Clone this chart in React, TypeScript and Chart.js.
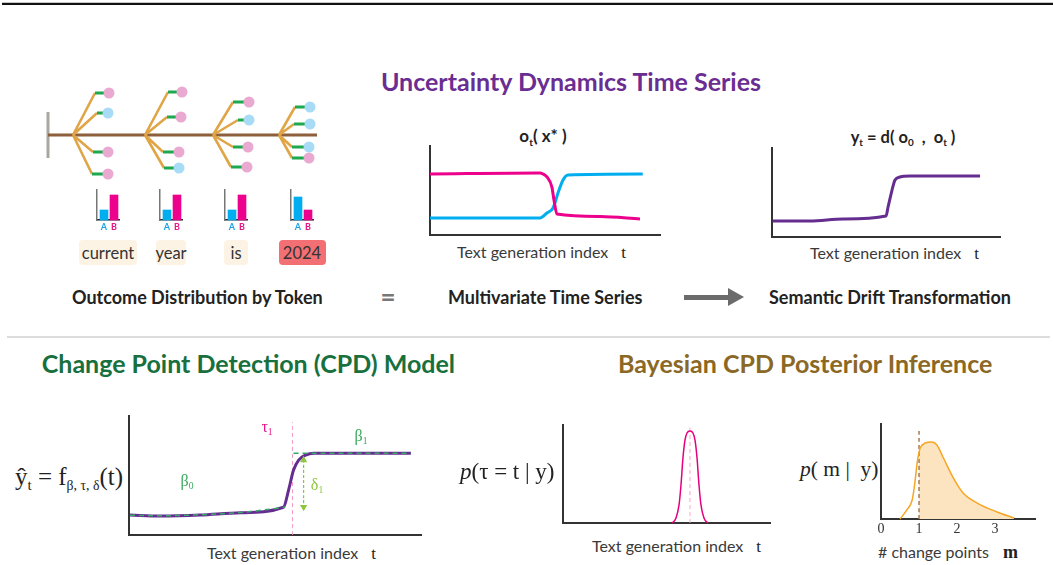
import React, { useEffect, useRef } from "react";
import { Chart, registerables } from "chart.js";
Chart.register(...registerables);

const SANS = "Lato, 'Open Sans', sans-serif";
const SERIF = "'Liberation Serif', 'DejaVu Serif', serif";

// ---------------- data ----------------
const TOKENS = ["current", "year", "is", "2024"];
const PROB_A = [10, 10, 10, 23];
const PROB_B = [25, 25, 25, 10];

// token tree (diagram units: along trunk / above-below trunk)
const TREE_NODE_X = [25, 97, 165, 231];
const TREE_TRUNK_END = 269;
const TREE_STEM = 23;
const TREE_BRANCH_Y = [
  [42, 22, -17, -39],
  [43, 18, -17, -33],
  [33, 15, -12, -32],
  [28, 11, -12, -23],
];
const TREE_ELBOW_DX = [
  [22, 24, 20, 19],
  [23, 22, 18, 19],
  [20, 25, 20, 18],
  [16, 15, 13, 13],
];
const TREE_LEAF_DX = [
  [36, 35, 35, 35],
  [37, 36, 34, 34],
  [36, 36, 35, 34],
  [31, 31, 30, 30],
];
const TREE_LEAF_OUTCOME = [
  ["B", "A", "B", "B"],
  ["B", "B", "B", "A"],
  ["B", "A", "B", "B"],
  ["A", "A", "A", "B"],
];

// o_t(x*) multivariate series
const OT_PINK_T = [0, 9.57, 9.83, 10.17, 10.6, 10.78, 11.04, 14.8, 18.26];
const OT_PINK_V = [68.5, 69.7, 68.5, 65.2, 53.9, 39.3, 23.6, 20.8, 18];
const OT_BLUE_T = [0, 9.57, 10.17, 10.7, 11.13, 11.57, 12, 18.5];
const OT_BLUE_V = [19.1, 19.1, 24.7, 30.3, 47.2, 61.8, 67.4, 68.5];

// y_t semantic drift
const YT_T = [0.06, 3.33, 6.23, 10.0, 10.18, 10.53, 10.79, 11.23, 12.1, 18.25];
const YT_V = [18, 18, 20.2, 23.6, 33.7, 52.8, 64, 67.4, 68.5, 68.5];

// CPD model fit
const CPD_T = [0.07, 2.13, 4.88, 7.63, 10.58, 10.93, 11.27, 11.62, 12.1, 12.65, 19.31];
const CPD_V = [16.8, 16, 16.8, 18.7, 23.3, 37.8, 54.6, 63, 67.2, 68.7, 68.7];
const CPD_FIT_T = [0.07, 2.13, 4.88, 7.63, 10.7, null, 11.27, 19.31];
const CPD_FIT_V = [16.6, 16.2, 17.0, 18.9, 23.3, null, 68.7, 68.7];
const CPD_TAU = 11.2;
const CPD_DELTA = [23.5, 63];
const CPD_DELTA_T = 11.96;

// posterior of change location
const TAU_T = [10.53, 10.92, 11.21, 11.4, 11.59, 11.79, 11.98, 12.27, 12.56, 12.75, 12.95, 13.14, 13.33, 13.62, 14.01];
const TAU_P = [0, 5.1, 18.4, 38.8, 66.3, 84.7, 91.8, 93.9, 91.8, 84.7, 66.3, 38.8, 18.4, 5.1, 0];
const TAU_MODE = 12.27;

// posterior of number of change points
const M_X = [0.5, 0.68, 0.82, 0.89, 0.95, 1.0, 1.03, 1.16, 1.34, 1.47, 1.63, 1.89, 2.16, 2.53, 3.05, 3.5];
const M_P = [0, 9.5, 20, 37.9, 58.9, 70, 74.7, 80, 81, 77.9, 65.3, 44.2, 27.4, 16.8, 7.4, 1.05];
const M_TICKS = [0, 1, 2, 3];
const M_MARK = 1;

// ---------------- colours ----------------
const PINK = "#ec008c";
const BLUE = "#00aeef";
const PURPLE = "#662d91";
const AXIS = "#333333";

// ---------------- helpers ----------------
type Box = { x: number; y: number; w: number; h: number };
type Pad = { l: number; t: number; r: number; b: number };

function ChartBox({ box, pad, build }: { box: Box; pad: Pad; build: (p: Pad) => any }) {
  const ref = useRef<HTMLCanvasElement | null>(null);
  useEffect(() => {
    if (!ref.current) return;
    const chart = new Chart(ref.current, build(pad));
    return () => chart.destroy();
  }, []);
  return (
    <div
      style={{
        position: "absolute",
        left: box.x - pad.l,
        top: box.y - pad.t,
        width: box.w + pad.l + pad.r,
        height: box.h + pad.t + pad.b,
      }}
    >
      <canvas ref={ref} />
    </div>
  );
}

// axisH: height reserved (inside pad.b) for x tick labels
function opts(pad: Pad, x: any, y: any, axisH = 0) {
  return {
    responsive: true,
    maintainAspectRatio: false,
    animation: false,
    events: [],
    layout: { autoPadding: false, padding: { left: pad.l, top: pad.t, right: pad.r, bottom: pad.b - axisH } },
    plugins: { legend: { display: false }, tooltip: { enabled: false }, title: { display: false } },
    scales: { x, y },
  };
}

function xAxis(min: number, max: number, extra: any = {}, h = 0) {
  return {
    type: "linear",
    min,
    max,
    grid: { display: false, drawTicks: false },
    border: { display: true, color: AXIS, width: 2 },
    ticks: { display: false },
    afterFit: (s: any) => {
      s.height = h;
    },
    ...extra,
  };
}
function yAxis(min: number, max: number, extra: any = {}) {
  return {
    type: "linear",
    min,
    max,
    grid: { display: false, drawTicks: false },
    border: { display: true, color: AXIS, width: 2 },
    ticks: { display: false },
    afterFit: (s: any) => {
      s.width = 0;
    },
    ...extra,
  };
}

function series(xs: (number | null)[], ys: (number | null)[], color: string, width: number, extra: any = {}) {
  return {
    data: xs.map((x, i) => ({ x: x === null ? null : x, y: ys[i] })),
    borderColor: color,
    backgroundColor: color,
    borderWidth: width,
    pointRadius: 0,
    fill: false,
    clip: false,
    tension: 0.4,
    cubicInterpolationMode: "monotone",
    ...extra,
  };
}

// ---------------- chart builders ----------------
function buildTree(pad: Pad) {
  const orange: any[] = [];
  const green: any[] = [];
  const leafA: any[] = [];
  const leafB: any[] = [];
  TREE_NODE_X.forEach((nx, i) => {
    TREE_BRANCH_Y[i].forEach((by, j) => {
      const ex = nx + TREE_ELBOW_DX[i][j];
      const lx = nx + TREE_LEAF_DX[i][j];
      orange.push({ x: nx, y: 0 }, { x: ex, y: by }, { x: ex, y: null });
      green.push({ x: ex, y: by }, { x: lx, y: by }, { x: lx, y: null });
      (TREE_LEAF_OUTCOME[i][j] === "A" ? leafA : leafB).push({ x: lx, y: by });
    });
  });
  const seg = (data: any[], color: string, w: number, order: number) => ({
    data,
    showLine: true,
    borderColor: color,
    borderWidth: w,
    pointRadius: 0,
    spanGaps: false,
    clip: false,
    order,
  });
  return {
    type: "scatter",
    data: {
      datasets: [
        { data: leafA, pointRadius: 5.5, pointBackgroundColor: "#a8dcf6", pointBorderWidth: 0, clip: false, order: 0 },
        { data: leafB, pointRadius: 5.5, pointBackgroundColor: "#e9a9d1", pointBorderWidth: 0, clip: false, order: 0 },
        seg(green, "#1ea84f", 2.8, 1),
        seg(orange, "#dfa546", 2.6, 2),
        seg([{ x: 0, y: 0 }, { x: TREE_TRUNK_END, y: 0 }], "#8d5f3c", 3.2, 3),
        seg([{ x: 0, y: -TREE_STEM }, { x: 0, y: TREE_STEM }], "#aaa6a0", 3, 4),
      ],
    },
    options: opts(pad, { type: "linear", display: false, min: -8, max: 282 }, { type: "linear", display: false, min: -50, max: 50 }),
  };
}

function buildMiniBar(i: number) {
  return (pad: Pad) => ({
    type: "bar",
    data: {
      datasets: [
        {
          data: [
            { x: 0, y: PROB_A[i] },
            { x: 1, y: PROB_B[i] },
          ],
          backgroundColor: [BLUE, PINK],
          barThickness: 8,
          clip: false,
        },
      ],
    },
    options: opts(
      pad,
      {
        type: "linear",
        min: -0.7,
        max: 1.5,
        offset: false,
        grid: { display: false, drawTicks: false },
        border: { display: true, color: "#222", width: 1.5 },
        ticks: {
          display: true,
          padding: 2,
          autoSkip: false,
          maxRotation: 0,
          font: { family: SANS, size: 9, weight: "bold" },
          color: (c: any) => (c.tick && c.tick.value === 0 ? "#1aa3e0" : "#e6168a"),
          callback: (v: any) => (v === 0 ? "A" : v === 1 ? "B" : ""),
        },
        afterBuildTicks: (s: any) => {
          s.ticks = [{ value: 0 }, { value: 1 }];
        },
        afterFit: (s: any) => {
          s.height = 12;
        },
      },
      {
        type: "linear",
        min: 0,
        max: 30,
        grid: { display: false, drawTicks: false },
        border: { display: true, color: "#777", width: 1.5 },
        ticks: { display: false },
        afterFit: (s: any) => {
          s.width = 0;
        },
      },
      12
    ),
  });
}

function buildOt(pad: Pad) {
  return {
    type: "line",
    data: {
      datasets: [series(OT_PINK_T, OT_PINK_V, PINK, 3), series(OT_BLUE_T, OT_BLUE_V, BLUE, 3)],
    },
    options: opts(pad, xAxis(0, 20), yAxis(0, 100)),
  };
}

function buildYt(pad: Pad) {
  return {
    type: "line",
    data: { datasets: [series(YT_T, YT_V, PURPLE, 3)] },
    options: opts(pad, xAxis(0, 20), yAxis(0, 100)),
  };
}

function buildCpd(pad: Pad) {
  return {
    type: "line",
    data: {
      datasets: [
        series(CPD_FIT_T, CPD_FIT_V, "#3aa86a", 1.5, { borderDash: [5, 4], order: 0, spanGaps: false }),
        series([CPD_DELTA_T, CPD_DELTA_T], [CPD_DELTA[1], CPD_DELTA[0]], "#8dc63f", 1.2, {
          tension: 0,
          borderDash: [3, 2],
          pointRadius: 3,
          pointStyle: "triangle",
          rotation: [0, 180],
          order: 0,
        }),
        series(CPD_T, CPD_V, PURPLE, 3, { order: 1 }),
        series([CPD_TAU, CPD_TAU], [0, 95], "#f49ac5", 1, { tension: 0, borderDash: [4, 3], order: 2 }),
      ],
    },
    options: opts(pad, xAxis(0, 20), yAxis(0, 100)),
  };
}

function buildTau(pad: Pad) {
  return {
    type: "line",
    data: {
      datasets: [
        series(TAU_T, TAU_P, "#e6007e", 1.5, { order: 0 }),
        series([TAU_MODE, TAU_MODE], [0, 100], "#f4a6c9", 1, { tension: 0, borderDash: [4, 3], order: 1 }),
      ],
    },
    options: opts(pad, xAxis(0, 20), yAxis(0, 100)),
  };
}

function buildM(pad: Pad) {
  const fx: number[] = [];
  const fy: number[] = [];
  M_X.forEach((x, i) => {
    if (x >= M_MARK) {
      fx.push(x);
      fy.push(M_P[i]);
    }
  });
  return {
    type: "line",
    data: {
      datasets: [
        series(M_X, M_P, "#f6a623", 1.5, { order: 0 }),
        series([M_MARK, M_MARK], [0, 93.7], "#a77b4f", 1.5, { tension: 0, borderDash: [4, 3], order: 1 }),
        series(fx, fy, "rgba(0,0,0,0)", 0, { fill: "origin", backgroundColor: "#fde4c1", order: 2 }),
      ],
    },
    options: opts(
      pad,
      xAxis(
        0,
        4.05,
        {
          ticks: {
            display: true,
            padding: 2,
            autoSkip: false,
            maxRotation: 0,
            color: "#333",
            font: { family: SERIF, size: 14 },
            callback: (v: any) => String(v),
          },
          afterBuildTicks: (s: any) => {
            s.ticks = M_TICKS.map((v) => ({ value: v }));
          },
        },
        20
      ),
      yAxis(0, 100),
      20
    ),
  };
}

// ---------------- text helpers ----------------
function Txt({ x, y, a = "l", s = {}, children }: any) {
  const tx = a === "c" ? "-50%" : a === "r" ? "-100%" : "0";
  return (
    <div
      style={{
        position: "absolute",
        left: x,
        top: y,
        transform: `translate(${tx},-50%)`,
        whiteSpace: "nowrap",
        lineHeight: 1,
        ...s,
      }}
    >
      {children}
    </div>
  );
}
function Sub({ children, s = {} }: any) {
  return <span style={{ fontSize: "0.6em", position: "relative", top: "0.35em", ...s }}>{children}</span>;
}

const COL_X = [108, 171, 236, 302];
const TOKEN_W = [58, 30, 24, 47];

function AxisLabel({ x, y, text, v, gap = 13 }: any) {
  return (
    <Txt x={x} y={y} s={{ fontFamily: SANS, fontSize: 16, color: "#3a3a3a" }}>
      {text}
      <span style={{ fontFamily: SERIF, fontSize: 17, color: "#222", marginLeft: gap }}>{v}</span>
    </Txt>
  );
}

export default function App() {
  const bold = { fontFamily: SANS, fontWeight: 700, color: "#222" };
  return (
    <div style={{ position: "absolute", left: 0, top: 0, width: 1053, height: 565, background: "#fff", overflow: "hidden" }}>
      {/* top rule */}
      <div style={{ position: "absolute", left: 2, top: 2, width: 1051, height: 1, background: "#c8c8c8" }} />
      <div style={{ position: "absolute", left: 2, top: 3, width: 1051, height: 2, background: "#111" }} />

      {/* section title */}
      <Txt x={571} y={81} a="c" s={{ fontFamily: SANS, fontWeight: 700, fontSize: 25, color: "#6a2d92" }}>
        Uncertainty Dynamics Time Series
      </Txt>

      {/* tree */}
      <ChartBox box={{ x: 40, y: 85, w: 290, h: 100 }} pad={{ l: 0, t: 0, r: 0, b: 0 }} build={buildTree} />

      {/* mini distributions */}
      {COL_X.map((cx, i) => (
        <ChartBox key={"b" + i} box={{ x: cx - 11, y: 190, w: 22, h: 30 }} pad={{ l: 4, t: 2, r: 4, b: 13 }} build={buildMiniBar(i)} />
      ))}

      {/* tokens */}
      {TOKENS.map((tk, i) => (
        <div
          key={tk}
          style={{
            position: "absolute",
            left: COL_X[i] - TOKEN_W[i] / 2,
            top: 240,
            width: TOKEN_W[i],
            height: 25,
            borderRadius: 4,
            background: i === 3 ? "#f27073" : "#fdf3e5",
            display: "flex",
            alignItems: "center",
            justifyContent: "center",
            fontFamily: SANS,
            fontSize: 16.5,
            color: "#333",
          }}
        >
          {tk}
        </div>
      ))}

      {/* o_t chart */}
      <Txt x={543} y={135} a="c" s={{ ...bold, fontSize: 17 }}>
        o<Sub>t</Sub>( x* )
      </Txt>
      <ChartBox box={{ x: 430, y: 146, w: 230, h: 89 }} pad={{ l: 4, t: 4, r: 4, b: 4 }} build={buildOt} />
      <AxisLabel x={457} y={252} text="Text generation index" v="t" />

      {/* y_t chart */}
      <Txt x={903} y={137} a="c" s={{ ...bold, fontSize: 16.5 }}>
        y<Sub>t</Sub> = d( o<Sub>0</Sub> &nbsp;, &nbsp;o<Sub>t</Sub> )
      </Txt>
      <ChartBox box={{ x: 772, y: 148, w: 228, h: 89 }} pad={{ l: 4, t: 4, r: 4, b: 4 }} build={buildYt} />
      <AxisLabel x={810} y={253} text="Text generation index" v="t" />

      {/* row labels */}
      <Txt x={72} y={297} s={{ ...bold, fontSize: 18 }}>
        Outcome Distribution by Token
      </Txt>
      <Txt x={388} y={296} a="c" s={{ fontFamily: SANS, fontWeight: 700, fontSize: 26, color: "#777" }}>
        =
      </Txt>
      <Txt x={448} y={297} s={{ ...bold, fontSize: 18 }}>
        Multivariate Time Series
      </Txt>
      <div style={{ position: "absolute", left: 684, top: 294.5, width: 46, height: 5, background: "#6b6b6b" }} />
      <div
        style={{
          position: "absolute",
          left: 728,
          top: 288,
          width: 0,
          height: 0,
          borderTop: "9px solid transparent",
          borderBottom: "9px solid transparent",
          borderLeft: "16px solid #6b6b6b",
        }}
      />
      <Txt x={769} y={297} s={{ ...bold, fontSize: 18 }}>
        Semantic Drift Transformation
      </Txt>

      {/* separator */}
      <div style={{ position: "absolute", left: 7, top: 336, width: 1043, height: 2, background: "#dcdcdc" }} />

      {/* bottom titles */}
      <Txt x={455} y={363} a="r" s={{ fontFamily: SANS, fontWeight: 700, fontSize: 25, color: "#17703d" }}>
        Change Point Detection (CPD) Model
      </Txt>
      <Txt x={618} y={363} s={{ fontFamily: SANS, fontWeight: 700, fontSize: 25, color: "#8b6824" }}>
        Bayesian CPD Posterior Inference
      </Txt>

      {/* CPD model */}
      <Txt x={15} y={476} s={{ fontFamily: SERIF, fontSize: 25, color: "#222" }}>
        ŷ<Sub>t</Sub> = f<Sub s={{ fontSize: "0.55em" }}>β, τ, δ</Sub>(t)
      </Txt>
      <ChartBox box={{ x: 129, y: 416, w: 292, h: 119 }} pad={{ l: 4, t: 4, r: 4, b: 4 }} build={buildCpd} />
      <Txt x={267} y={427} a="c" s={{ fontFamily: SERIF, fontSize: 16, color: "#e6168a" }}>
        τ<Sub>1</Sub>
      </Txt>
      <Txt x={361} y={436} a="c" s={{ fontFamily: SERIF, fontSize: 16, color: "#3aaa5c" }}>
        β<Sub>1</Sub>
      </Txt>
      <Txt x={187} y={481} a="c" s={{ fontFamily: SERIF, fontSize: 16, color: "#3aaa5c" }}>
        β<Sub>0</Sub>
      </Txt>
      <Txt x={317} y={485} a="c" s={{ fontFamily: SERIF, fontSize: 16, color: "#8dc63f" }}>
        δ<Sub>1</Sub>
      </Txt>
      <AxisLabel x={207} y={553} text="Text generation index" v="t" />

      {/* tau posterior */}
      <Txt x={460} y={471} s={{ fontFamily: SERIF, fontSize: 23, color: "#222" }}>
        <i>p</i>(τ = t | y)
      </Txt>
      <ChartBox box={{ x: 563, y: 425, w: 207, h: 98 }} pad={{ l: 4, t: 4, r: 4, b: 4 }} build={buildTau} />
      <AxisLabel x={592} y={546} text="Text generation index" v="t" />

      {/* m posterior */}
      <Txt x={800} y={470} s={{ fontFamily: SERIF, fontSize: 21.5, color: "#222" }}>
        <i>p</i>( m |&nbsp; y)
      </Txt>
      <ChartBox box={{ x: 881, y: 424, w: 154, h: 95 }} pad={{ l: 8, t: 4, r: 8, b: 22 }} build={buildM} />
      <Txt x={878} y={552} s={{ fontFamily: SANS, fontSize: 16, color: "#3a3a3a" }}>
        # change points
        <span style={{ fontFamily: SERIF, fontWeight: 700, fontSize: 18, color: "#222", marginLeft: 14 }}>m</span>
      </Txt>
    </div>
  );
}
